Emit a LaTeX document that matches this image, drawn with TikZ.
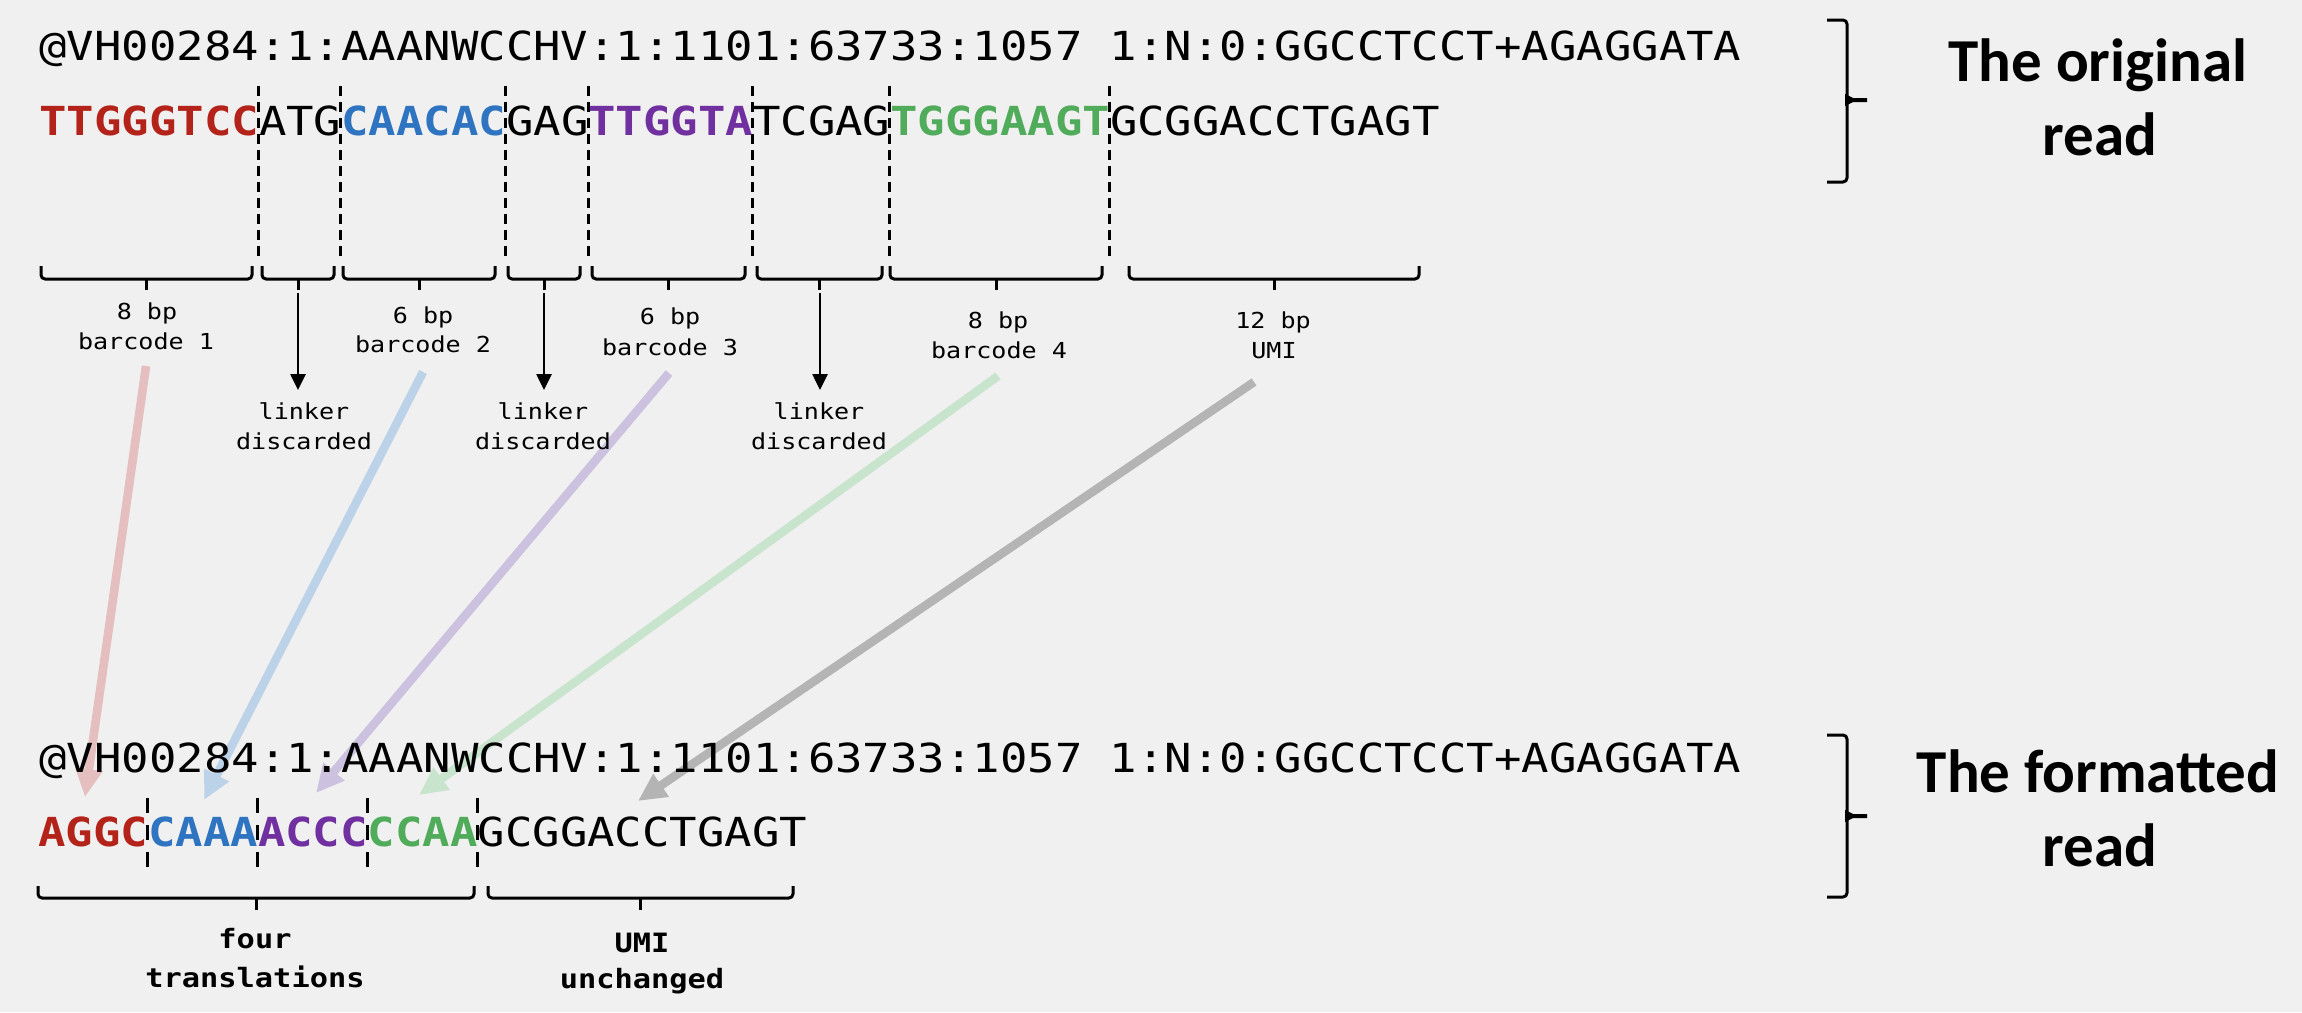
\documentclass[tikz,border=0pt]{standalone}
\usepackage{fontspec}
\usetikzlibrary{arrows.meta}
\newfontfamily\seqfont[FakeStretch=1.14]{DejaVu Sans Mono}
\newfontfamily\ttlfont{Carlito}
\definecolor{bgc}{HTML}{F0F0F0}
\definecolor{cred}{RGB}{180,35,25}
\definecolor{cblue}{RGB}{46,116,192}
\definecolor{cpurple}{RGB}{112,48,160}
\definecolor{cgreen}{RGB}{80,172,90}
\definecolor{lred}{RGB}{229,191,191}
\definecolor{lblue}{RGB}{188,210,232}
\definecolor{lpurple}{RGB}{205,193,224}
\definecolor{lgreen}{RGB}{200,228,204}
\definecolor{lgray}{RGB}{180,180,180}
\newcommand\hbrc[5]{%
  \draw[brc] (#1,#3) -- (#1,#4) -- (#2,#4) -- (#2,#3);
  \draw[brc] ({(#1+#2)/2},#4) -- ({(#1+#2)/2},#5);}
\newcommand\vbrc[3]{%
  \draw[brc] (1827,#1) -- (1847,#1) -- (1847,#3) -- (1827,#3);
  \fill (1845,#2-6) -- (1853,#2-2) -- (1867,#2-2) -- (1867,#2+2) -- (1853,#2+2) -- (1845,#2+6) -- cycle;}
\begin{document}
\begin{tikzpicture}[x=0.5pt,y=-0.5pt,
  seq/.style={anchor=base west, inner sep=0, font=\seqfont\fontsize{20}{24}\selectfont},
  lbl/.style={anchor=base, inner sep=0, font=\seqfont\fontsize{11}{13}\selectfont},
  blbl/.style={anchor=base, inner sep=0, font=\seqfont\bfseries\fontsize{13.3}{16}\selectfont},
  ttl/.style={anchor=base, inner sep=0, font=\ttlfont\bfseries\fontsize{30.5}{36}\selectfont},
  brc/.style={line width=1.5pt, rounded corners=2pt, line join=round},
  sep1/.style={line width=1.5pt, dash pattern=on 5pt off 3pt},
  sep2/.style={line width=1.5pt, dash pattern=on 7.5pt off 6pt},
  lnk/.style={line width=1.3pt, -{Triangle[width=7.5pt,length=8pt]}},
  map/.style={line width=4.3pt, -{Triangle[width=13pt,length=14pt]}}
]
\fill[bgc] (0,0) rectangle (2302,1012);
\useasboundingbox (0,0) rectangle (2302,1012);

% mapping arrows (drawn first, behind the text)
\coordinate (r0) at (146,366);  \coordinate (r1) at (85,797);
\coordinate (bl0) at (423,372); \coordinate (bl1) at (204,800);
\coordinate (p0) at (669,373);  \coordinate (p1) at (316,793);
\coordinate (g0) at (998,376);  \coordinate (g1) at (419,795);
\coordinate (u0) at (1254,382); \coordinate (u1) at (638,801);
\draw[map, lred] (r0) -- (r1);
\draw[map, lblue] (bl0) -- (bl1);
\draw[map, lpurple] (p0) -- (p1);
\draw[map, lgreen] (g0) -- (g1);
\draw[map, lgray] (u0) -- (u1);

% original read
\node[seq] (h1) at (39,61) {@VH00284:1:AAANWCCHV:1:1101:63733:1057 1:N:0:GGCCTCCT+AGAGGATA};
\node[seq] (s1) at (39,135) {{\bfseries\color{cred}TTGGGTCC}ATG{\bfseries\color{cblue}CAACAC}GAG{\bfseries\color{cpurple}TTGGTA}TCGAG{\bfseries\color{cgreen}TGGGAAGT}GCGGACCTGAGT};

\foreach \k in {8,11,17,20,26,31,39}
  \draw[sep1] ({39+\k*27.45},86) -- ({39+\k*27.45},257);

\hbrc{41}{252}{266}{279}{290}
\hbrc{262}{334}{266}{279}{290}
\hbrc{343}{495}{266}{279}{290}
\hbrc{508}{580}{266}{279}{290}
\hbrc{592}{745}{266}{279}{290}
\hbrc{757}{882}{266}{279}{290}
\hbrc{890}{1102}{266}{279}{290}
\hbrc{1129}{1419}{266}{279}{290}

\node[lbl] (b1a) at (147,319) {8 bp};
\node[lbl] (b1b) at (146,349) {barcode 1};
\node[lbl] (b2a) at (423,323) {6 bp};
\node[lbl] (b2b) at (423,352) {barcode 2};
\node[lbl] (b3a) at (670,324) {6 bp};
\node[lbl] (b3b) at (670,355) {barcode 3};
\node[lbl] (b4a) at (998,328) {8 bp};
\node[lbl] (b4b) at (999,358) {barcode 4};
\node[lbl] (uma) at (1273,328) {12 bp};
\node[lbl] (umb) at (1274,358) {UMI};

\foreach \x/\n in {298/1,544/2,820/3}{
  \coordinate (l\n s) at (\x,293);
  \coordinate (l\n e) at (\x,390);
  \draw[lnk] (l\n s) -- (l\n e);
}
\node[lbl] (k1a) at (304,419) {linker};
\node[lbl] (k1b) at (304,449) {discarded};
\node[lbl] (k2a) at (543,419) {linker};
\node[lbl] (k2b) at (543,449) {discarded};
\node[lbl] (k3a) at (819,419) {linker};
\node[lbl] (k3b) at (819,449) {discarded};

% right braces and titles
\vbrc{20}{100}{182}
\node[ttl] (t1a) at (2098,81) {The original};
\node[ttl] (t1b) at (2100,155) {read};
\vbrc{735}{816}{897}
\node[ttl] (t2a) at (2098,792) {The formatted};
\node[ttl] (t2b) at (2100,866) {read};

% formatted read
\node[seq] (h2) at (39,772) {@VH00284:1:AAANWCCHV:1:1101:63733:1057 1:N:0:GGCCTCCT+AGAGGATA};
\node[seq] (s2) at (38,846) {{\bfseries\color{cred}AGGC}{\bfseries\color{cblue}CAAA}{\bfseries\color{cpurple}ACCC}{\bfseries\color{cgreen}CCAA}GCGGACCTGAGT};
\foreach \k in {4,8,12,16}
  \draw[sep2] ({38+\k*27.45},798) -- ({38+\k*27.45},867);

\hbrc{38}{474}{886}{898}{910}
\hbrc{488}{793}{886}{898}{910}
\node[blbl] (fa) at (255,948) {four};
\node[blbl] (fb) at (255,987) {translations};
\node[blbl] (ua) at (642,952) {UMI};
\node[blbl] (ub) at (642,988) {unchanged};
\end{tikzpicture}
\end{document}
